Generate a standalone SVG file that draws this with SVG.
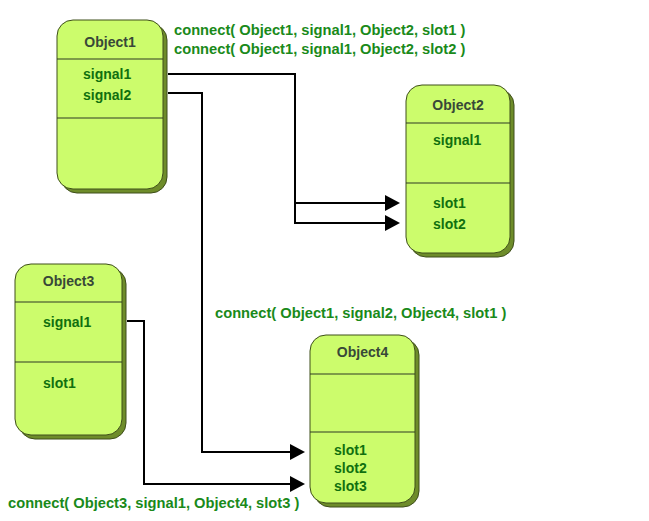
<svg xmlns="http://www.w3.org/2000/svg" width="649" height="521" viewBox="0 0 649 521">
<style>
.shadow{fill:#6e8c2a;stroke:#3e4e1a;stroke-width:1}
.body{fill:#ccfc6c;stroke:#3e4e1a;stroke-width:1}
.sep{stroke:#2e3a24;stroke-width:1}
.title{font-family:"Liberation Sans",Arial,sans-serif;font-weight:bold;font-size:14px;fill:#384838;text-anchor:middle}
.item{font-family:"Liberation Sans",Arial,sans-serif;font-weight:bold;font-size:14px;fill:#10700f}
.label{font-family:"Liberation Sans",Arial,sans-serif;font-weight:bold;font-size:14.7px;fill:#1a8a1a}
.wire{fill:none;stroke:#000;stroke-width:2;marker-end:url(#arrow)}
.plain{fill:none;stroke:#000;stroke-width:2}
</style>
<defs>
<marker id="arrow" markerUnits="userSpaceOnUse" markerWidth="16" markerHeight="16" refX="10" refY="8" orient="auto">
<path d="M0,0 L15,8 L0,16 z" fill="#000"/>
</marker>
</defs>
<rect width="649" height="521" fill="#fff"/>
<g id="Object1">
<rect class="shadow" x="61" y="24" width="106" height="169" rx="16"/>
<rect class="body" x="57" y="20" width="106" height="169" rx="16"/>
<line class="sep" x1="57" y1="59" x2="163" y2="59"/>
<line class="sep" x1="57" y1="118" x2="163" y2="118"/>
<text class="title" x="110" y="47">Object1</text>
<text class="item" x="83" y="79">signal1</text>
<text class="item" x="83" y="100">signal2</text>
</g>
<g id="Object2">
<rect class="shadow" x="410" y="89" width="104" height="168" rx="16"/>
<rect class="body" x="406" y="85" width="104" height="168" rx="16"/>
<line class="sep" x1="406" y1="123" x2="510" y2="123"/>
<line class="sep" x1="406" y1="183" x2="510" y2="183"/>
<text class="title" x="458" y="110">Object2</text>
<text class="item" x="433" y="145">signal1</text>
<text class="item" x="433" y="208">slot1</text>
<text class="item" x="433" y="229">slot2</text>
</g>
<g id="Object3">
<rect class="shadow" x="19" y="268" width="107" height="171" rx="16"/>
<rect class="body" x="15" y="264" width="107" height="171" rx="16"/>
<line class="sep" x1="15" y1="302" x2="122" y2="302"/>
<line class="sep" x1="15" y1="362" x2="122" y2="362"/>
<text class="title" x="68.5" y="286">Object3</text>
<text class="item" x="43" y="327">signal1</text>
<text class="item" x="43" y="388">slot1</text>
</g>
<g id="Object4">
<rect class="shadow" x="314" y="339" width="105" height="168" rx="16"/>
<rect class="body" x="310" y="335" width="105" height="168" rx="16"/>
<line class="sep" x1="310" y1="374" x2="415" y2="374"/>
<line class="sep" x1="310" y1="432" x2="415" y2="432"/>
<text class="title" x="362.5" y="357">Object4</text>
<text class="item" x="334" y="455">slot1</text>
<text class="item" x="334" y="473">slot2</text>
<text class="item" x="334" y="491">slot3</text>
</g>
<g id="connectors">
<path class="wire" d="M168,74 H295 V223 H395"/>
<path class="wire" d="M295,203 H395"/>
<path class="wire" d="M168,93 H202 V452 H300"/>
<path class="wire" d="M127,321 H144 V484 H300"/>
</g>
<g id="labels">
<text class="label" x="174" y="35">connect( Object1, signal1, Object2, slot1 )</text>
<text class="label" x="174" y="54">connect( Object1, signal1, Object2, slot2 )</text>
<text class="label" x="215" y="318">connect( Object1, signal2, Object4, slot1 )</text>
<text class="label" x="8" y="508">connect( Object3, signal1, Object4, slot3 )</text>
</g>
</svg>
